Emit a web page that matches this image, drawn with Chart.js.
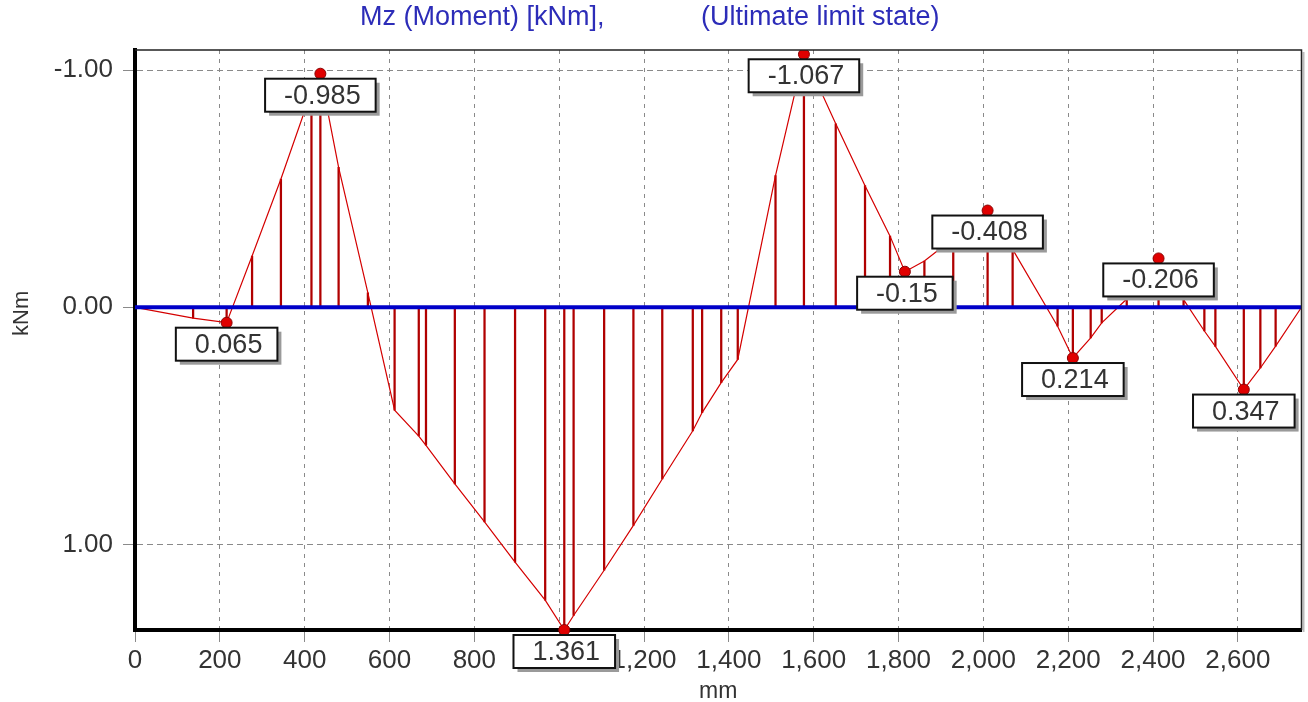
<!DOCTYPE html>
<html>
<head>
<meta charset="utf-8">
<title>Mz (Moment)</title>
<script src="https://cdn.jsdelivr.net/npm/chart.js@4.4.0/dist/chart.umd.min.js"></script>
<style>
    html, body { margin: 0; padding: 0; background: #fff; }
    #wrap { width: 1308px; height: 702px; }
</style>
</head>
<body>
<div id="wrap"><canvas id="momentChart" width="1308" height="702"></canvas></div>
<script>
// stations along the beam [mm]
const stations = [0, 137, 216, 276, 344, 416, 437, 480, 549, 612, 669, 686, 754, 824, 896, 967, 1012,
    1034, 1106, 1175, 1243, 1315, 1337, 1382, 1421, 1510, 1577, 1652, 1721, 1780, 1815, 1861, 1929,
    2010, 2069, 2175, 2211, 2253, 2279, 2338, 2413, 2472, 2521, 2547, 2614, 2653, 2689, 2750];

// bending moment Mz at each station [kNm]
const moments = [0, 0.046, 0.065, -0.216, -0.541, -0.91, -0.985, -0.59, -0.061, 0.434, 0.543, 0.582,
    0.745, 0.905, 1.075, 1.235, 1.361, 1.30, 1.109, 0.92, 0.724, 0.521, 0.444, 0.318, 0.22, -0.555,
    -1.067, -0.774, -0.513, -0.30, -0.15, -0.195, -0.29, -0.408, -0.244, 0.08, 0.214, 0.129, 0.066,
    -0.035, -0.206, -0.032, 0.10, 0.165, 0.347, 0.256, 0.164, 0];

// local extremes that get a marker and a value box
const peakStations = [216, 437, 1012, 1577, 1815, 2010, 2211, 2413, 2614];
const peakMoments = [0.065, -0.985, 1.361, -1.067, -0.15, -0.408, 0.214, -0.206, 0.347];
const peakLabels = ['0.065', '-0.985', '1.361', '-1.067', '-0.15', '-0.408', '0.214', '-0.206', '0.347'];

// axis ticks
const xTicks = [0, 200, 400, 600, 800, 1000, 1200, 1400, 1600, 1800, 2000, 2200, 2400, 2600];
const yTicks = [-1, 0, 1];
const beamLength = 2750;

const FONT = 'Arial, "Liberation Sans", sans-serif';

const diagramPoints = stations.map((s, i) => ({ x: s, y: moments[i] }));
const peakPoints = peakStations.map((s, i) => ({ x: s, y: peakMoments[i] }));

// title, frame, unit label and value boxes
const decorations = {
    id: 'decorations',
    afterDatasetsDraw(chart) {
        const { ctx, chartArea, scales: { x, y } } = chart;
        ctx.save();

        // thin top / right frame with a soft shadow
        ctx.strokeStyle = '#bbb';
        ctx.lineWidth = 2;
        ctx.beginPath();
        ctx.moveTo(chartArea.right + 2, chartArea.top + 2);
        ctx.lineTo(chartArea.right + 2, chartArea.bottom + 2);
        ctx.stroke();
        ctx.strokeStyle = '#222';
        ctx.lineWidth = 1.5;
        ctx.beginPath();
        ctx.moveTo(chartArea.left, chartArea.top);
        ctx.lineTo(chartArea.right, chartArea.top);
        ctx.lineTo(chartArea.right, chartArea.bottom);
        ctx.stroke();

        // value boxes under the markers
        ctx.font = '27px ' + FONT;
        ctx.textAlign = 'center';
        ctx.textBaseline = 'middle';
        peakLabels.forEach(function (text, i) {
            const px = x.getPixelForValue(peakStations[i]);
            const py = y.getPixelForValue(peakMoments[i]);
            const w = ctx.measureText(text).width + 34;
            const h = 33;
            const left = px - w / 2;
            const top = py + 5;
            ctx.fillStyle = '#9a9a9a';
            ctx.fillRect(left + 4, top + 4, w, h);
            ctx.fillStyle = '#fff';
            ctx.fillRect(left, top, w, h);
            ctx.strokeStyle = '#111';
            ctx.lineWidth = 2;
            ctx.strokeRect(left, top, w, h);
            ctx.fillStyle = '#333';
            ctx.fillText(text, px + 2, top + h / 2 + 1);
        });

        // unit of the vertical axis, placed just under the zero line
        ctx.save();
        ctx.translate(22, y.getPixelForValue(0) + 6);
        ctx.rotate(-Math.PI / 2);
        ctx.font = '22px ' + FONT;
        ctx.fillStyle = '#333';
        ctx.fillText('kNm', 0, 0);
        ctx.restore();

        // title
        ctx.font = '27px ' + FONT;
        ctx.textAlign = 'left';
        ctx.fillStyle = '#2c2cb8';
        ctx.fillText('Mz (Moment) [kNm],', 360, 18);
        ctx.fillText('(Ultimate limit state)', 701, 18);

        ctx.restore();
    }
};

const ctx = document.getElementById('momentChart').getContext('2d');

new Chart(ctx, {
    type: 'scatter',
    data: {
        datasets: [{
            // hatching from the diagram down to the beam axis
            type: 'bar',
            data: diagramPoints,
            backgroundColor: '#b00000',
            barThickness: 1.6,
            order: 4
        }, {
            type: 'line',
            data: diagramPoints,
            borderColor: '#d40000',
            borderWidth: 1.2,
            pointRadius: 0,
            fill: false,
            order: 3
        }, {
            // beam axis
            type: 'line',
            data: [{ x: 0, y: 0 }, { x: beamLength, y: 0 }],
            borderColor: '#0000c8',
            borderWidth: 4,
            pointRadius: 0,
            order: 2
        }, {
            type: 'scatter',
            data: peakPoints,
            pointRadius: 5.5,
            pointBackgroundColor: '#e00000',
            pointBorderColor: '#8a0000',
            pointBorderWidth: 1,
            clip: { left: false, right: false, top: 0, bottom: false },
            order: 1
        }]
    },
    options: {
        responsive: false,
        animation: false,
        devicePixelRatio: 1,
        layout: { padding: { top: 50, right: 5, left: 0, bottom: 0 } },
        plugins: {
            legend: { display: false },
            tooltip: { enabled: false }
        },
        scales: {
            x: {
                type: 'linear',
                position: 'bottom',
                min: 0,
                max: beamLength,
                offset: false,
                afterBuildTicks: function (scale) {
                    scale.ticks = xTicks.map(v => ({ value: v }));
                },
                afterFit: function (scale) {
                    scale.height = 72;
                },
                ticks: {
                    autoSkip: false,
                    maxRotation: 0,
                    padding: 3,
                    color: '#333',
                    font: { family: FONT, size: 26 },
                    callback: function (value) {
                        return value.toLocaleString('en-US');
                    }
                },
                grid: {
                    color: '#8a8a8a',
                    lineWidth: 1,
                    tickLength: 12,
                    offset: false
                },
                border: { display: true, color: '#000', width: 4, dash: [4, 5] },
                title: {
                    display: true,
                    text: 'mm',
                    color: '#333',
                    font: { family: FONT, size: 23 },
                    padding: { top: 0, bottom: -3 }
                }
            },
            y: {
                type: 'linear',
                reverse: true,
                min: -1.085,
                max: 1.361,
                afterBuildTicks: function (scale) {
                    scale.ticks = yTicks.map(v => ({ value: v }));
                },
                afterFit: function (scale) {
                    scale.width = 135;
                },
                ticks: {
                    padding: 10,
                    color: '#333',
                    font: { family: FONT, size: 26 },
                    callback: function (value) {
                        return value.toFixed(2);
                    }
                },
                grid: {
                    color: '#8a8a8a',
                    lineWidth: 1,
                    tickLength: 12
                },
                border: { display: true, color: '#000', width: 4, dash: [6, 4] }
            }
        }
    },
    plugins: [decorations]
});
</script>
</body>
</html>
